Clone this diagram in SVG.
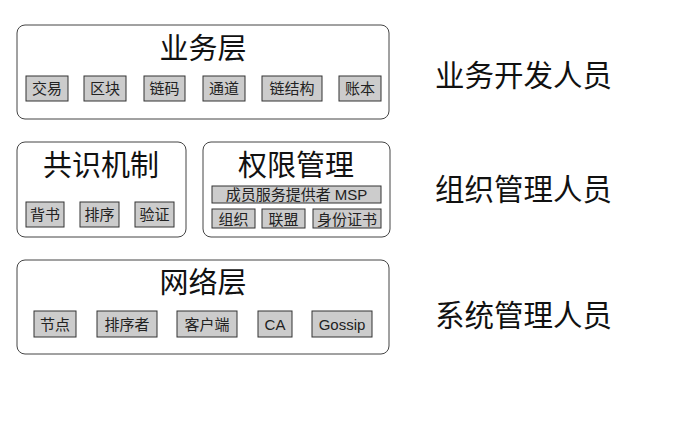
<svg xmlns="http://www.w3.org/2000/svg" width="689" height="424" viewBox="0 0 689 424">
<style>
.outer{fill:#fff;stroke:#444;stroke-width:1}
.item{fill:#cccccc;stroke:#333;stroke-width:1}
.title{font-family:"Liberation Sans","Noto Sans CJK SC",sans-serif;font-size:29px;fill:#111;text-anchor:middle}
.lbl{font-family:"Liberation Sans","Noto Sans CJK SC",sans-serif;font-size:15px;fill:#222;text-anchor:middle}
.role{font-family:"Liberation Sans","Noto Sans CJK SC",sans-serif;font-size:29.5px;fill:#111}
</style>
<rect width="689" height="424" fill="#fff"/>
<g id="business">
<rect class="outer" x="17" y="25" width="372" height="94" rx="8"/>
<text class="title" x="203" y="59">业务层</text>
<rect class="item" x="26" y="76" width="42" height="25"/><text class="lbl" x="47" y="94">交易</text>
<rect class="item" x="84" y="76" width="42" height="25"/><text class="lbl" x="105" y="94">区块</text>
<rect class="item" x="144" y="76" width="41" height="25"/><text class="lbl" x="164.5" y="94">链码</text>
<rect class="item" x="203" y="76" width="42" height="25"/><text class="lbl" x="224" y="94">通道</text>
<rect class="item" x="262" y="76" width="60" height="25"/><text class="lbl" x="292" y="94">链结构</text>
<rect class="item" x="339" y="76" width="42" height="25"/><text class="lbl" x="360" y="94">账本</text>
</g>
<g id="consensus">
<rect class="outer" x="17" y="142" width="169" height="95" rx="8"/>
<text class="title" x="101" y="176">共识机制</text>
<rect class="item" x="26" y="202" width="38" height="25"/><text class="lbl" x="45" y="220">背书</text>
<rect class="item" x="80" y="202" width="39" height="25"/><text class="lbl" x="99.5" y="220">排序</text>
<rect class="item" x="135" y="202" width="39" height="25"/><text class="lbl" x="154.5" y="220">验证</text>
</g>
<g id="permission">
<rect class="outer" x="203" y="142" width="187" height="95" rx="8"/>
<text class="title" x="296" y="176">权限管理</text>
<rect class="item" x="212" y="186" width="169" height="17"/><text class="lbl" x="296.5" y="200">成员服务提供者 MSP</text>
<rect class="item" x="212" y="209" width="43" height="19"/><text class="lbl" x="233.5" y="224.5">组织</text>
<rect class="item" x="262" y="209" width="43" height="19"/><text class="lbl" x="283.5" y="224.5">联盟</text>
<rect class="item" x="313" y="209" width="68" height="19"/><text class="lbl" x="347" y="224.5">身份证书</text>
</g>
<g id="network">
<rect class="outer" x="17" y="260" width="372" height="94" rx="8"/>
<text class="title" x="203" y="293">网络层</text>
<rect class="item" x="34" y="311" width="42" height="26"/><text class="lbl" x="55" y="329.5">节点</text>
<rect class="item" x="97" y="311" width="60" height="26"/><text class="lbl" x="127" y="329.5">排序者</text>
<rect class="item" x="177" y="311" width="60" height="26"/><text class="lbl" x="207" y="329.5">客户端</text>
<rect class="item" x="258" y="311" width="34" height="26"/><text class="lbl" x="275" y="329.5">CA</text>
<rect class="item" x="312" y="311" width="60" height="26"/><text class="lbl" x="342" y="329.5">Gossip</text>
</g>
<g id="roles">
<text class="role" x="435" y="86">业务开发人员</text>
<text class="role" x="435" y="200">组织管理人员</text>
<text class="role" x="435" y="326">系统管理人员</text>
</g>
<g id="connectors"></g>
</svg>
